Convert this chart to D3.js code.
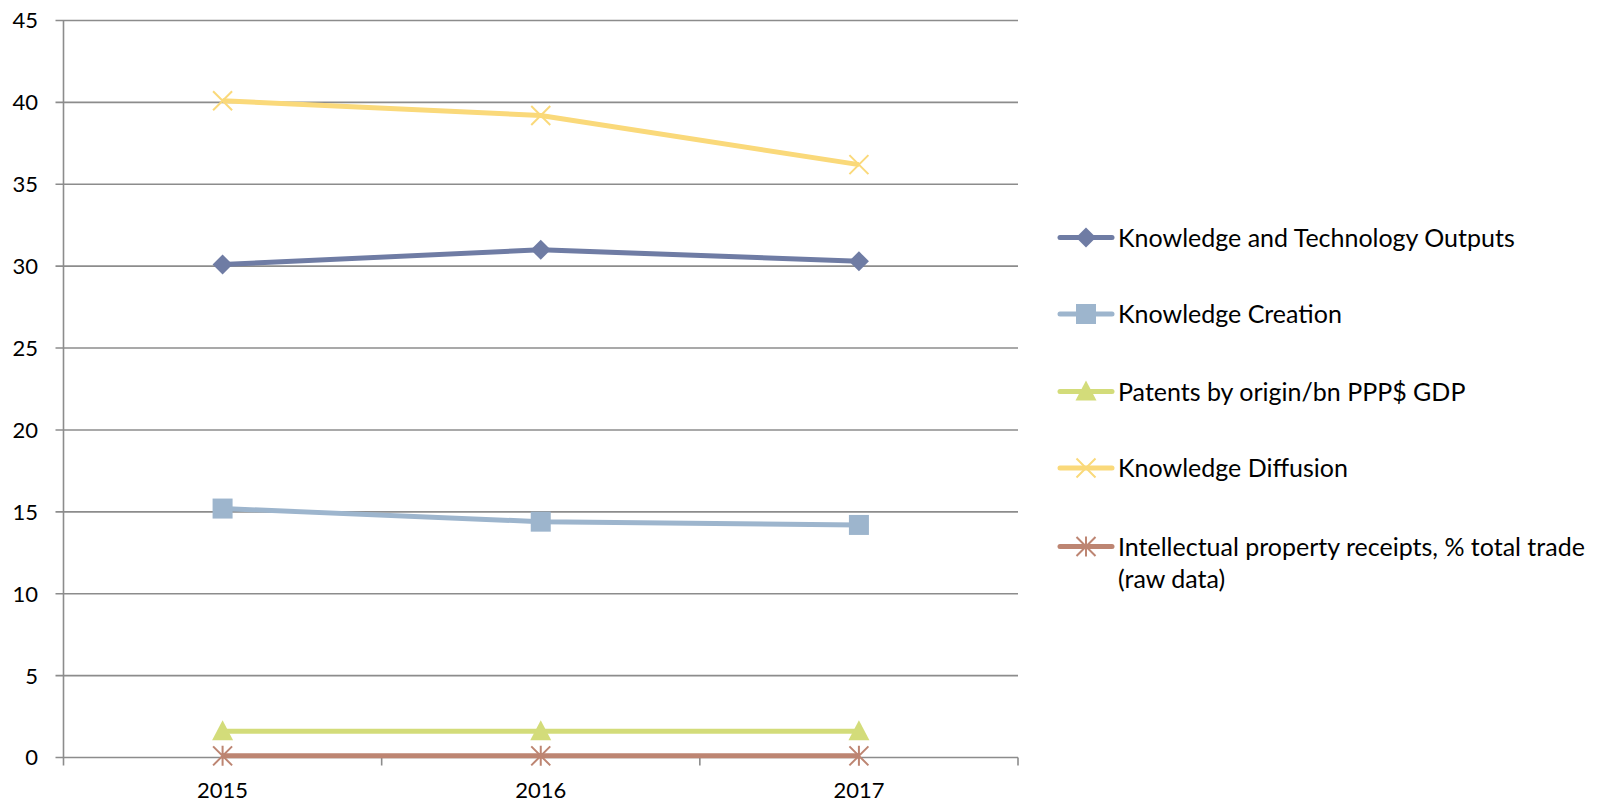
<!DOCTYPE html>
<html><head><meta charset="utf-8">
<script src="https://cdn.jsdelivr.net/npm/d3@7"></script>
<style>
html,body{margin:0;padding:0;background:#fff;overflow:hidden;}
svg{display:block;}
text{font-family:"Lato","Open Sans",sans-serif;fill:#000;}
</style></head>
<body>
<svg id="c" width="1598" height="804"></svg>
<script>
const years = ["2015","2016","2017"];
const seriesNames = ["Knowledge and Technology Outputs","Knowledge Creation","Patents by origin/bn PPP$ GDP","Knowledge Diffusion","Intellectual property receipts, % total trade (raw data)"];
const outputsVals = [30.1, 31.0, 30.3];
const creationVals = [15.2, 14.4, 14.2];
const patentsVals = [1.6, 1.6, 1.6];
const diffusionVals = [40.1, 39.2, 36.2];
const ipVals = [0.1, 0.1, 0.1];
const yTicks = [0,5,10,15,20,25,30,35,40,45];

const colors = ["#6f7ca4","#9db5cd","#d3dc7a","#fad97a","#bd8572"];
const markers = ["diamond","square","triangle","x","star"];
const values = [outputsVals, creationVals, patentsVals, diffusionVals, ipVals];
const series = seriesNames.map((n,i)=>({name:n, values:values[i], color:colors[i], marker:markers[i]}));

const svg = d3.select("#c");
const L=63.5, R=1018, T=20.5, B=757.5;
const x = d3.scaleBand().domain(years).range([L,R]);
const y = d3.scaleLinear().domain([0,45]).range([B,T]);
const cx = d => x(d)+x.bandwidth()/2;

svg.append("g").selectAll("line").data(yTicks).join("line")
  .attr("x1",L-8).attr("x2",R).attr("y1",d=>y(d)).attr("y2",d=>y(d))
  .attr("stroke","#8c8c8c").attr("stroke-width",1.6);
svg.append("line").attr("x1",L).attr("x2",L).attr("y1",T).attr("y2",B).attr("stroke","#8c8c8c").attr("stroke-width",1.6);
svg.append("g").selectAll("text").data(yTicks).join("text")
  .attr("x",38).attr("y",d=>y(d)).attr("dy","0.36em").attr("text-anchor","end")
  .attr("font-size",22).text(d=>d);
const xb = [L, ...years.map(d=>x(d)+x.bandwidth())];
svg.append("g").selectAll("line").data(xb).join("line")
  .attr("x1",d=>d).attr("x2",d=>d).attr("y1",B).attr("y2",B+8)
  .attr("stroke","#8c8c8c").attr("stroke-width",1.6);
svg.append("g").selectAll("text").data(years).join("text")
  .attr("x",d=>cx(d)).attr("y",B+40).attr("text-anchor","middle").attr("font-size",22).text(d=>d);

function drawMarker(g, type, color, px, py){
  if(type==="diamond"){
    g.append("path").attr("d",`M${px},${py-10}L${px+10},${py}L${px},${py+10}L${px-10},${py}Z`).attr("fill",color);
  } else if(type==="square"){
    g.append("rect").attr("x",px-10).attr("y",py-10).attr("width",20).attr("height",20).attr("fill",color);
  } else if(type==="triangle"){
    g.append("path").attr("d",`M${px},${py-11}L${px+10.5},${py+9}L${px-10.5},${py+9}Z`).attr("fill",color);
  } else if(type==="x"){
    g.append("path").attr("d",`M${px-9.5},${py-9.5}L${px+9.5},${py+9.5}M${px+9.5},${py-9.5}L${px-9.5},${py+9.5}`).attr("stroke",color).attr("stroke-width",2);
  } else if(type==="star"){
    g.append("path").attr("d",`M${px-9.5},${py-9.5}L${px+9.5},${py+9.5}M${px+9.5},${py-9.5}L${px-9.5},${py+9.5}M${px},${py-10}L${px},${py+10}`).attr("stroke",color).attr("stroke-width",2);
  }
}

const line = d3.line().x((d,i)=>cx(years[i])).y(d=>y(d));
const drawOrder = [4,2,1,0,3];
drawOrder.forEach(si=>{
  const s = series[si];
  const g = svg.append("g");
  g.append("path").attr("d",line(s.values)).attr("fill","none").attr("stroke",s.color).attr("stroke-width",5).attr("stroke-linejoin","round");
  s.values.forEach((v,i)=>drawMarker(g,s.marker,s.color,cx(years[i]),y(v)));
});

const legY = [237.5,314,391.5,468,546.5];
series.forEach((s,i)=>{
  const g = svg.append("g");
  const ly = legY[i];
  g.append("line").attr("x1",1060).attr("x2",1112).attr("y1",ly).attr("y2",ly).attr("stroke",s.color).attr("stroke-width",5).attr("stroke-linecap","round");
  drawMarker(g,s.marker,s.color,1086,ly);
  const t = g.append("text").attr("x",1118).attr("y",ly).attr("dy","0.36em").attr("font-size",25);
  if(i===4){
    t.append("tspan").attr("x",1118).text("Intellectual property receipts, % total trade");
    t.append("tspan").attr("x",1118).attr("dy","1.3em").text("(raw data)");
  } else t.text(s.name);
});
</script>
</body></html>
